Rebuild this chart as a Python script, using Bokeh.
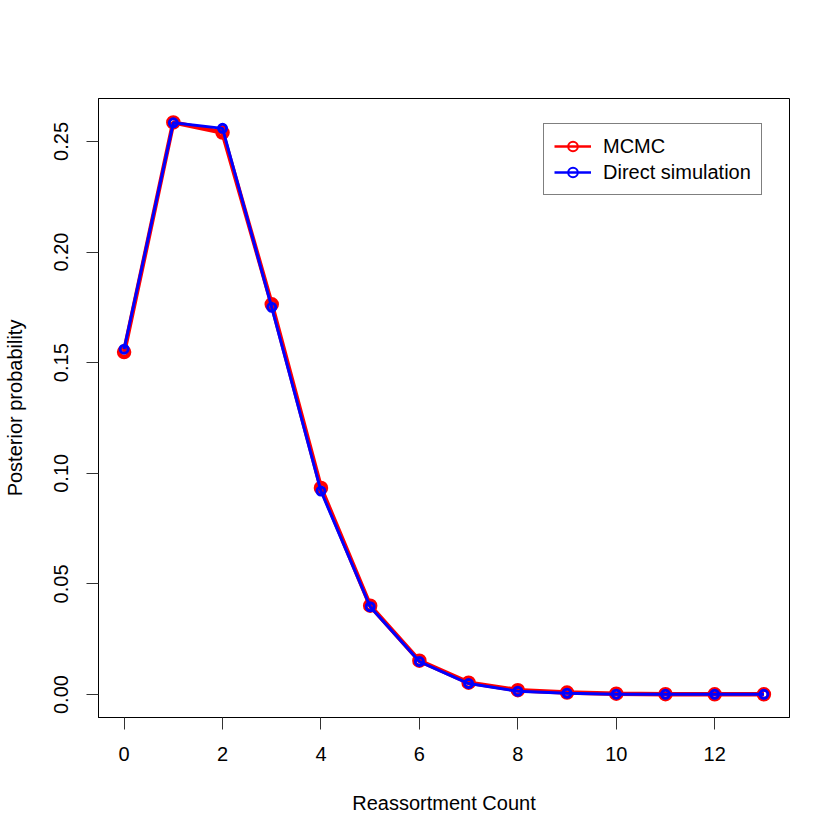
from bokeh.plotting import figure
from bokeh.models import FixedTicker, Range1d, Legend, LegendItem
from bokeh.embed import file_html
from bokeh.resources import INLINE

counts = list(range(14))
mcmc = [0.1548, 0.2586, 0.2540, 0.1764, 0.0934, 0.0402, 0.0153, 0.0054, 0.0020, 0.0009, 0.0004, 0.0002, 0.0001, 0.0001]
direct = [0.1561, 0.2584, 0.2559, 0.1750, 0.0920, 0.0397, 0.0149, 0.0050, 0.0015, 0.0006, 0.0002, 0.0001, 0.0001, 0.0001]
x_ticks = [0, 2, 4, 6, 8, 10, 12]
y_ticks = [0.0, 0.05, 0.10, 0.15, 0.20, 0.25]
y_tick_labels = ["0.00", "0.05", "0.10", "0.15", "0.20", "0.25"]
series_names = ["MCMC", "Direct simulation"]

FONT = "Liberation Sans"

p = figure(width=824, height=824, output_backend="svg", toolbar_location=None,
           x_range=Range1d(-0.52, 13.52), y_range=Range1d(-0.01036, 0.2694),
           min_border_left=98, min_border_right=35, min_border_top=98, min_border_bottom=107)
p.grid.visible = False
p.outline_line_color = "black"
p.outline_line_width = 1
p.background_fill_color = "white"
p.border_fill_color = "white"

p.line(counts, mcmc, line_color="red", line_width=4.5)
p.scatter(counts, mcmc, size=10, fill_color=None, line_color="red", line_width=4.5)
p.line(counts, direct, line_color="blue", line_width=3)
p.scatter(counts, direct, size=8, fill_color=None, line_color="blue", line_width=3)

# hidden renderers used only for the legend's thinner glyph style
l1 = p.line(counts, mcmc, line_color="red", line_width=2.5, visible=False)
m1 = p.scatter(counts, mcmc, size=9, fill_color=None, line_color="red", line_width=2, visible=False)
l2 = p.line(counts, direct, line_color="blue", line_width=2.5, visible=False)
m2 = p.scatter(counts, direct, size=9, fill_color=None, line_color="blue", line_width=2, visible=False)

for ax in (p.xaxis[0], p.yaxis[0]):
    ax.axis_line_color = "black"
    ax.major_tick_line_color = "#333333"
    ax.major_tick_out = 12
    ax.major_tick_in = 0
    ax.minor_tick_line_color = None
    ax.major_label_text_font = FONT
    ax.major_label_text_font_size = "20px"
    ax.major_label_text_color = "black"
    ax.axis_label_text_font = FONT
    ax.axis_label_text_font_size = "20px"
    ax.axis_label_text_font_style = "normal"
    ax.axis_label_text_color = "black"

p.xaxis.ticker = FixedTicker(ticks=x_ticks)
p.xaxis.axis_label = "Reassortment Count"
p.xaxis.major_label_standoff = 17
p.xaxis.axis_label_standoff = 28

p.yaxis.ticker = FixedTicker(ticks=y_ticks)
p.yaxis.major_label_overrides = {t: l for t, l in zip(y_ticks, y_tick_labels)}
p.yaxis.major_label_orientation = "vertical"
p.yaxis.axis_label = "Posterior probability"
p.yaxis.major_label_standoff = 18
p.yaxis.axis_label_standoff = 26

legend = Legend(items=[LegendItem(label=series_names[0], renderers=[l1, m1]),
                       LegendItem(label=series_names[1], renderers=[l2, m2])],
                location=(445, 522))
legend.label_text_font = FONT
legend.label_text_font_size = "20px"
legend.label_text_color = "black"
legend.border_line_color = "black"
legend.border_line_width = 1
legend.padding = 10
legend.margin = 0
legend.spacing = 2
legend.glyph_width = 37
legend.glyph_height = 24
legend.label_height = 24
legend.label_standoff = 12
legend.inactive_fill_alpha = 0
legend.background_fill_alpha = 1
p.add_layout(legend, "center")

open("out.html", "w").write(file_html(p, INLINE))
